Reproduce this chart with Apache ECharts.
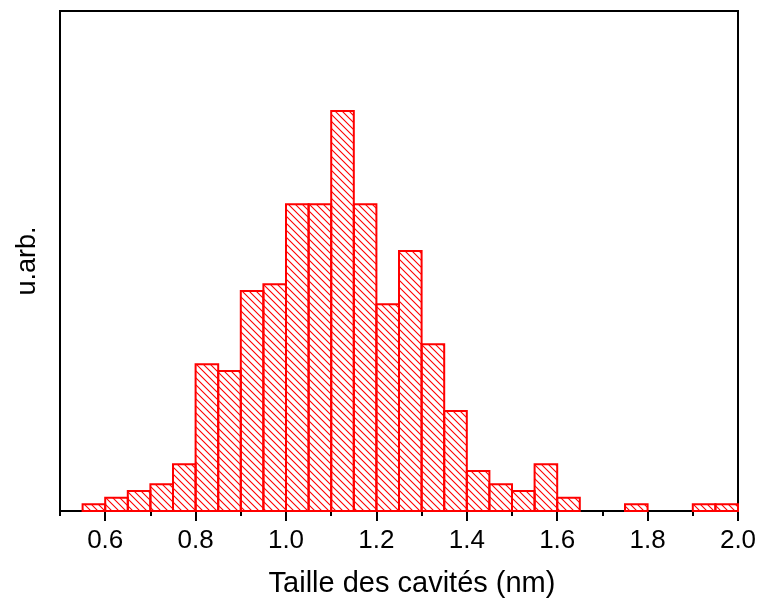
<!DOCTYPE html>
<html>
<head>
<meta charset="utf-8">
<script src="https://cdn.jsdelivr.net/npm/echarts@6/dist/echarts.min.js"></script>
<style>
html,body{margin:0;padding:0;background:#fff;}
#chart{width:761px;height:604px;}
</style>
</head>
<body>
<div id="chart"></div>
<script>
// Histogram data: bin left edges (nm), bin width, counts (arbitrary units)
const binStarts = [0.55,0.60,0.65,0.70,0.75,0.80,0.85,0.90,0.95,1.00,1.05,1.10,1.15,1.20,1.25,1.30,1.35,1.40,1.45,1.50,1.55,1.60,1.65,1.70,1.75,1.80,1.85,1.90,1.95];
const binWidth = 0.05;
const counts = [1,2,3,4,7,22,21,33,34,46,46,60,46,31,39,25,15,6,4,3,7,2,0,0,1,0,0,1,1];
const majorTicks = [0.6,0.8,1.0,1.2,1.4,1.6,1.8,2.0];
const minorTicks = [0.5,0.7,0.9,1.1,1.3,1.5,1.7,1.9];

const FONT = '"Liberation Sans", Arial, sans-serif';

// hatch pattern
const T = 7;
const tile = document.createElement('canvas');
tile.width = T; tile.height = T;
const tctx = tile.getContext('2d');
tctx.strokeStyle = '#ff0000';
tctx.lineWidth = 1.1;
tctx.beginPath();
tctx.moveTo(-1,-1); tctx.lineTo(T+1,T+1);
tctx.moveTo(-1,T-1); tctx.lineTo(1,T+1);
tctx.moveTo(T-1,-1); tctx.lineTo(T+1,1);
tctx.stroke();

const data = binStarts.map((s,i)=>[s, counts[i]]);

const chart = echarts.init(document.getElementById('chart'), null, {renderer:'canvas'});
chart.setOption({
  animation:false,
  backgroundColor:'#fff',
  grid:{left:60,top:11,right:23,bottom:93,show:true,borderColor:'#000',borderWidth:2,backgroundColor:'transparent'},
  xAxis:[{
    type:'value',min:0.5,max:2.0,position:'bottom',
    name:'Taille des cavités (nm)',nameLocation:'middle',nameGap:58,
    nameTextStyle:{fontFamily:FONT,fontSize:29,color:'#000',padding:[0,0,0,26]},
    axisLine:{show:true,lineStyle:{color:'#000',width:2}},
    axisTick:{show:true,inside:false,length:10,lineStyle:{color:'#000',width:2},customValues:majorTicks},
    axisLabel:{show:true,margin:17,fontFamily:FONT,fontSize:26,color:'#000',customValues:majorTicks,
      formatter:v=>v.toFixed(1)},
    splitLine:{show:false}
  },{
    type:'value',min:0.5,max:2.0,position:'bottom',
    axisLine:{show:false},
    axisTick:{show:true,inside:false,length:5,lineStyle:{color:'#000',width:2},customValues:minorTicks},
    axisLabel:{show:false},
    splitLine:{show:false}
  }],
  yAxis:{
    type:'value',min:0,max:75,
    name:'u.arb.',nameLocation:'middle',nameGap:19,nameRotate:90,
    nameTextStyle:{fontFamily:FONT,fontSize:27,color:'#000'},
    axisLine:{show:true,lineStyle:{color:'#000',width:2}},
    axisTick:{show:false},axisLabel:{show:false},splitLine:{show:false}
  },
  series:[{
    type:'custom',
    xAxisIndex:0,
    data:data,
    renderItem:function(params, api){
      const x0 = api.value(0), y = api.value(1);
      if (!y) return null;
      const p0 = api.coord([x0, y]);
      const p1 = api.coord([x0 + binWidth, 0]);
      return {
        type:'rect',
        shape:{x:p0[0], y:p0[1], width:p1[0]-p0[0], height:p1[1]-p0[1]},
        style:{fill:{image:tile, repeat:'repeat'}, stroke:'#ff0000', lineWidth:2}
      };
    },
    encode:{x:0,y:1}
  }]
});
</script>
</body>
</html>
